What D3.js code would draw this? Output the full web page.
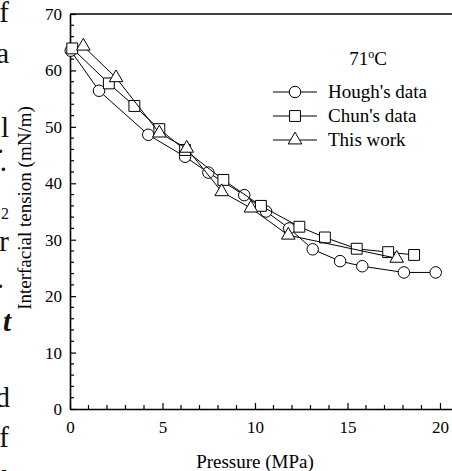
<!doctype html>
<html>
<head>
  <meta charset="utf-8" />
  <script src="https://cdnjs.cloudflare.com/ajax/libs/d3/7.8.5/d3.min.js"></script>
  <style>
  body{
    margin: 0;
    background: #fff;
    overflow: hidden;
  }
  svg{
    display: block;
    font-family: "Liberation Serif", "Times New Roman", serif;
  }
  .axis path, .axis line{
    stroke: #000;
  }
  .axis text{
    font-family: "Liberation Serif", serif;
    font-size: 17px;
    fill: #000;
  }
  .frag{
    font-size: 29px;
    fill: #111;
  }
  </style>
</head>
<body>
  <div id="chart"></div>
  <script>
  // Hough's data (circles)
  var houghP = [0.04, 1.57, 4.23, 6.22, 7.48, 9.42, 10.6, 11.85, 13.12, 14.6, 15.8, 18.05, 19.77];
  var houghT = [63.5, 56.4, 48.6, 44.7, 41.9, 37.9, 35.0, 32.0, 28.3, 26.2, 25.3, 24.2, 24.2];
  // Chun's data (squares)
  var chunP = [0.12, 2.1, 3.48, 4.83, 6.22, 8.29, 10.32, 12.4, 13.78, 15.5, 17.2, 18.6];
  var chunT = [63.9, 57.7, 53.7, 49.6, 45.9, 40.6, 36.0, 32.3, 30.4, 28.4, 27.8, 27.3];
  // This work (triangles)
  var thisP = [0.72, 2.49, 4.83, 6.31, 8.2, 9.78, 11.8, 17.66];
  var thisT = [64.3, 58.7, 48.9, 46.2, 38.5, 35.6, 30.8, 26.7];

  var seriesNames = ["Hough's data", "Chun's data", "This work"];
  var xTicks = [0, 5, 10, 15, 20];
  var yTicks = [0, 10, 20, 30, 40, 50, 60, 70];

  var width = 452, height = 471;
  var marginLeft = 70, plotTop = 14, plotBottom = 409;

  var svg = d3.select("#chart").append("svg")
    .attr("width", width)
    .attr("height", height);

  // bits of the neighbouring text column, cut by the crop
  var frags = [
    ["f", 9, 22, ""], ["a", 9, 63, ""], ["l", 9, 137, ""],
    [".", 4, 153, ""], [".", 7, 171, ""], ["r", 9, 251, ""],
    [".", 4, 288, ""], ["t", 11, 331, "bi"], ["d", 10, 407, ""],
    ["f", 9, 447, ""], ["l", 9, 490, ""]
  ];
  svg.selectAll("text.frag").data(frags).enter().append("text")
    .attr("class", "frag")
    .attr("x", function(d){ return d[1]; })
    .attr("y", function(d){ return d[2]; })
    .attr("text-anchor", "end")
    .style("font-weight", function(d){ return d[3] ? "bold" : null; })
    .style("font-style", function(d){ return d[3] ? "italic" : null; })
    .text(function(d){ return d[0]; });
  svg.append("text").attr("class", "frag")
    .attr("x", 9).attr("y", 219).attr("text-anchor", "end")
    .style("font-size", "16px").text("2");

  var x = d3.scaleLinear().domain([0, 20.65]).range([marginLeft, 452]);
  var y = d3.scaleLinear().domain([0, 70]).range([plotBottom, plotTop]);

  // minor ticks
  var xMinor = d3.range(0, 21, 1).filter(function(v){ return v % 5 != 0; });
  var yMinor = d3.range(0, 71, 2).filter(function(v){ return v % 10 != 0; });

  svg.append("g").selectAll("line").data(xMinor).enter().append("line")
    .attr("x1", x).attr("x2", x)
    .attr("y1", plotBottom).attr("y2", plotBottom - 4)
    .attr("stroke", "#000").attr("stroke-width", 1.2);
  svg.append("g").selectAll("line").data(yMinor).enter().append("line")
    .attr("y1", y).attr("y2", y)
    .attr("x1", marginLeft).attr("x2", marginLeft + 4)
    .attr("stroke", "#000").attr("stroke-width", 1.2);

  var xAxis = svg.append("g")
    .attr("class", "axis")
    .attr("transform", "translate(0," + plotBottom + ")")
    .call(d3.axisBottom(x).tickValues(xTicks).tickSizeInner(-6).tickSizeOuter(0).tickPadding(12));
  xAxis.select(".domain").attr("stroke-width", 1.6);
  xAxis.selectAll(".tick line").attr("stroke-width", 1.2);

  var yAxis = svg.append("g")
    .attr("class", "axis")
    .attr("transform", "translate(" + marginLeft + ",0)")
    .call(d3.axisLeft(y).tickValues(yTicks).tickSizeInner(-6).tickSizeOuter(0).tickPadding(8));
  yAxis.select(".domain").attr("stroke-width", 1.6);
  yAxis.selectAll(".tick line").attr("stroke-width", 1.2);

  // top frame line
  svg.append("line")
    .attr("x1", x(0)).attr("x2", x(20.65))
    .attr("y1", y(70)).attr("y2", y(70))
    .attr("stroke", "#000").attr("stroke-width", 1.4);

  svg.append("text")
    .attr("x", x(10)).attr("y", 468)
    .attr("text-anchor", "middle")
    .style("font-size", "19px")
    .text("Pressure (MPa)");

  svg.append("text")
    .attr("transform", "translate(31," + 208 + ") rotate(-90)")
    .attr("text-anchor", "middle")
    .style("font-size", "19px")
    .text("Interfacial tension (mN/m)");

  var shapes = [d3.symbolCircle, d3.symbolSquare, d3.symbolTriangle];
  var sizes = [104, 118, 80];
  var sets = [
    {p: houghP, t: houghT},
    {p: chunP, t: chunT},
    {p: thisP, t: thisT}
  ];

  var line = d3.line()
    .x(function(d){ return x(d[0]); })
    .y(function(d){ return y(d[1]); });

  sets.forEach(function(s, i){
    var pts = s.p.map(function(v, j){ return [v, s.t[j]]; });
    svg.append("path")
      .datum(pts)
      .attr("d", line)
      .attr("fill", "none")
      .attr("stroke", "#000")
      .attr("stroke-width", 1);
    svg.append("g").selectAll("path").data(pts).enter().append("path")
      .attr("transform", function(d){ return "translate(" + x(d[0]) + "," + y(d[1]) + ")"; })
      .attr("d", d3.symbol().type(shapes[i]).size(sizes[i]))
      .attr("fill", "#fff")
      .attr("stroke", "#000")
      .attr("stroke-width", 1);
  });

  // legend
  var title = svg.append("text")
    .attr("x", 368).attr("y", 65)
    .attr("text-anchor", "middle")
    .style("font-size", "19px");
  title.append("tspan").text("71");
  title.append("tspan").attr("dy", -7).style("font-size", "12px").text("o");
  title.append("tspan").attr("dy", 7).text("C");

  var lg = svg.append("g").selectAll("g").data(seriesNames).enter().append("g")
    .attr("transform", function(d, i){ return "translate(273," + (92 + i * 24) + ")"; });
  lg.append("line")
    .attr("x1", 0).attr("x2", 44)
    .attr("stroke", "#000").attr("stroke-width", 1);
  lg.append("path")
    .attr("transform", "translate(22,0)")
    .attr("d", function(d, i){ return d3.symbol().type(shapes[i]).size(sizes[i])(); })
    .attr("fill", "#fff")
    .attr("stroke", "#000");
  lg.append("text")
    .attr("x", 55).attr("y", 6)
    .style("font-size", "19px")
    .text(function(d){ return d; });
  </script>
</body>
</html>
